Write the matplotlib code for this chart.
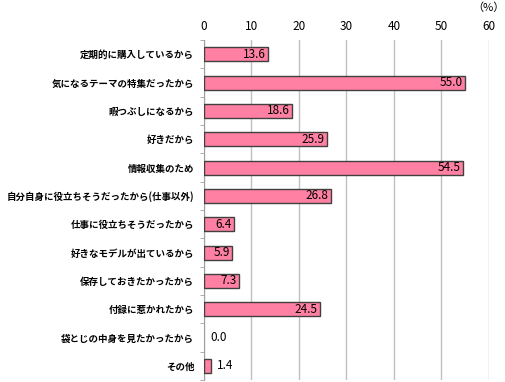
import matplotlib.pyplot as plt
import numpy as np

plt.rcParams['font.family'] = ['Noto Sans CJK JP', 'DejaVu Sans']

categories = [
    '定期的に購入しているから',
    '気になるテーマの特集だったから',
    '暇つぶしになるから',
    '好きだから',
    '情報収集のため',
    '自分自身に役立ちそうだったから(仕事以外)',
    '仕事に役立ちそうだったから',
    '好きなモデルが出ているから',
    '保存しておきたかったから',
    '付録に惹かれたから',
    '袋とじの中身を見たかったから',
    'その他',
]
values = [13.6, 55.0, 18.6, 25.9, 54.5, 26.8, 6.4, 5.9, 7.3, 24.5, 0.0, 1.4]
xticks = [0, 10, 20, 30, 40, 50, 60]

fig = plt.figure(figsize=(5.06, 3.82), dpi=100)
ax = fig.add_axes([0.403, 0.005, 0.563, 0.89])

y = np.arange(len(categories))
edges = ['#404040' if v > 0 else 'none' for v in values]
ax.barh(y, values, height=0.5, color='#FF80A2', edgecolor=edges, linewidth=1, zorder=3)

for yi, v in zip(y, values):
    if v < 3:
        ax.text(v + 1.4, yi, f'{v:.1f}', va='center', ha='left', fontsize=8.5, color='black', zorder=4)
    else:
        ax.text(v - 0.5, yi, f'{v:.1f}', va='center', ha='right', fontsize=8.5, color='black', zorder=4)

ax.set_xlim(0, 60)
ax.set_ylim(len(categories) - 0.5, -0.5)
ax.set_xticks(xticks)
ax.xaxis.tick_top()
ax.tick_params(axis='x', length=0, labelsize=8.5, pad=5)
ax.set_yticks(y)
ax.set_yticklabels(categories, fontsize=6.8, fontweight='bold')
ax.set_yticks(np.arange(-0.5, len(categories), 1), minor=True)
ax.tick_params(axis='y', which='major', length=0, pad=7)
ax.tick_params(axis='y', which='minor', length=3, color='#a0a0a0')
ax.grid(axis='x', color='#c0c0c0', linewidth=1, zorder=0)
for s in ['top', 'right', 'bottom']:
    ax.spines[s].set_visible(False)
ax.spines['left'].set_color('#a0a0a0')
fig.text(0.998, 0.995, '（%）', ha='right', va='top', fontsize=8)

plt.savefig('out.png')
